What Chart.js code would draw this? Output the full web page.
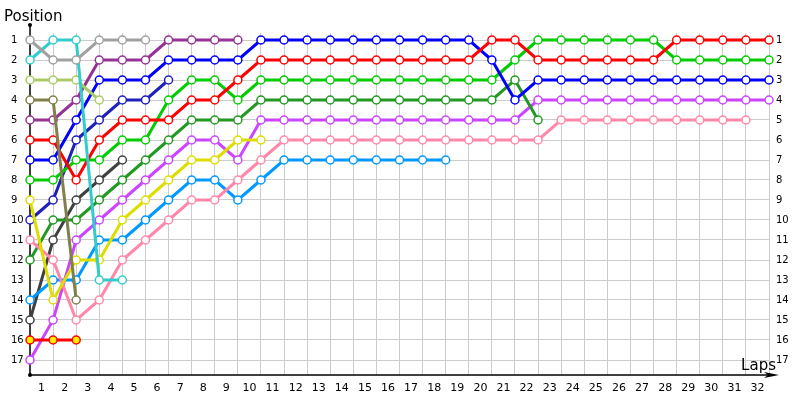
<!DOCTYPE html>
<html>
<head>
<meta charset="utf-8">
<script src="https://cdn.jsdelivr.net/npm/chart.js@4"></script>
<style>
  body { margin: 0; background: #fff; }
  .chart-box { width: 800px; height: 400px; }
</style>
</head>
<body>
<div class="chart-box"><canvas id="lapChart"></canvas></div>
<script>
// lap / position ticks
const lapTicks = [1, 2, 3, 4, 5, 6, 7, 8, 9, 10, 11, 12, 13, 14, 15, 16, 17, 18, 19, 20, 21, 22, 23, 24, 25, 26, 27, 28, 29, 30, 31, 32];
const positionTicks = [1, 2, 3, 4, 5, 6, 7, 8, 9, 10, 11, 12, 13, 14, 15, 16, 17];

// positions per lap, starting at lap 0 (grid)
const grayCar = [1, 2, 2, 1, 1, 1];
const cyanCar = [2, 1, 1, 13, 13];
const limeCar = [3, 3, 3, 4];
const oliveCar = [4, 4, 14];
const purpleCar = [5, 5, 4, 2, 2, 2, 1, 1, 1, 1];
const redCar = [6, 6, 8, 6, 5, 5, 5, 4, 4, 3, 2, 2, 2, 2, 2, 2, 2, 2, 2, 2, 1, 1, 2, 2, 2, 2, 2, 2, 1, 1, 1, 1, 1];
const blueCar = [7, 7, 5, 3, 3, 3, 2, 2, 2, 2, 1, 1, 1, 1, 1, 1, 1, 1, 1, 1, 2, 4, 3, 3, 3, 3, 3, 3, 3, 3, 3, 3, 3];
const greenCar = [8, 8, 7, 7, 6, 6, 4, 3, 3, 4, 3, 3, 3, 3, 3, 3, 3, 3, 3, 3, 3, 2, 1, 1, 1, 1, 1, 1, 2, 2, 2, 2, 2];
const yellowCar = [9, 14, 12, 12, 10, 9, 8, 7, 7, 6, 6];
const navyCar = [10, 9, 6, 5, 4, 4, 3];
const pinkCar = [11, 12, 15, 14, 12, 11, 10, 9, 9, 8, 7, 6, 6, 6, 6, 6, 6, 6, 6, 6, 6, 6, 6, 5, 5, 5, 5, 5, 5, 5, 5, 5];
const forestCar = [12, 10, 10, 9, 8, 7, 6, 5, 5, 5, 4, 4, 4, 4, 4, 4, 4, 4, 4, 4, 4, 3, 5];
const skyCar = [14, 13, 13, 11, 11, 10, 9, 8, 8, 9, 8, 7, 7, 7, 7, 7, 7, 7, 7];
const charcoalCar = [15, 11, 9, 8, 7];
const redYellowCar = [16, 16, 16];
const violetCar = [17, 15, 11, 10, 9, 8, 7, 6, 6, 7, 5, 5, 5, 5, 5, 5, 5, 5, 5, 5, 5, 5, 4, 4, 4, 4, 4, 4, 4, 4, 4, 4, 4];

function toPoints(arr) {
    return arr.map((p, lap) => ({ x: lap, y: p }))
}
function carSet(arr, color, fill) {
    return {
        data: toPoints(arr),
        borderColor: color,
        borderWidth: 3,
        pointRadius: 4,
        pointBorderWidth: 1.5,
        pointBorderColor: color,
        pointBackgroundColor: fill || '#ffffff',
        tension: 0,
        clip: false
    }
}

const tickFont = { family: 'DejaVu Sans', size: 11 };
const posFont = { family: 'DejaVu Sans', size: 10 };

// axes, arrow and titles
const axisPlugin = {
    id: 'axisPlugin',
    beforeDatasetsDraw(chart) {
        const c = chart.ctx;
        const a = chart.chartArea;
        c.save();
        c.strokeStyle = '#000';
        c.lineWidth = 1.5;
        c.beginPath();
        c.moveTo(a.left, 25);
        c.lineTo(a.left, a.bottom);
        c.lineTo(770, a.bottom);
        c.stroke();
        c.fillStyle = '#000';
        c.beginPath();
        c.arc(a.left, 25, 2, 0, Math.PI * 2);
        c.fill();
        c.beginPath();
        c.arc(a.left, a.bottom, 2, 0, Math.PI * 2);
        c.fill();
        c.beginPath();
        c.moveTo(779, a.bottom);
        c.lineTo(764, a.bottom - 3);
        c.lineTo(768, a.bottom);
        c.lineTo(764, a.bottom + 3);
        c.closePath();
        c.fill();
        c.restore();
    },
    afterDraw(chart) {
        const c = chart.ctx;
        c.save();
        c.fillStyle = '#000';
        c.font = '15px "DejaVu Sans"';
        c.textBaseline = 'alphabetic';
        c.textAlign = 'left';
        c.fillText('Position', 4, 21);
        c.textAlign = 'right';
        c.fillText('Laps', 776, 370);
        c.restore();
    }
};

const lapChart = new Chart(document.getElementById('lapChart'), {
    type: 'line',
    data: {
        datasets: [
            carSet(grayCar, '#a0a0a0'),
            carSet(cyanCar, '#33cccc'),
            carSet(limeCar, '#aacc66'),
            carSet(oliveCar, '#80804c'),
            carSet(purpleCar, '#963296'),
            carSet(redCar, '#ff0000'),
            carSet(blueCar, '#0000ff'),
            carSet(greenCar, '#00cc00'),
            carSet(yellowCar, '#dddd00'),
            carSet(navyCar, '#2020bb'),
            carSet(pinkCar, '#ff88aa'),
            carSet(forestCar, '#229922'),
            carSet(skyCar, '#0099ff'),
            carSet(charcoalCar, '#404040'),
            carSet(redYellowCar, '#ff0000', '#ffee00'),
            carSet(violetCar, '#cc44ff')
        ]
    },
    options: {
        responsive: true,
        maintainAspectRatio: false,
        animation: false,
        events: [],
        layout: { padding: { left: 11, right: 0, top: 33, bottom: 0 } },
        plugins: {
            legend: { display: false },
            tooltip: { enabled: false },
            title: { display: false }
        },
        scales: {
            x: {
                type: 'linear',
                min: 0,
                max: 32,
                afterBuildTicks: s => { s.ticks = lapTicks.map(v => ({ value: v })) },
                afterFit: s => { s.height = 25 },
                grid: { color: '#cccccc', drawTicks: false },
                border: { display: false },
                ticks: { labelOffset: -11.5, padding: 7, font: tickFont, color: '#000', maxRotation: 0, autoSkip: false }
            },
            y: {
                type: 'linear',
                position: 'left',
                reverse: true,
                min: 0.65,
                max: 17.75,
                afterBuildTicks: s => { s.ticks = positionTicks.map(v => ({ value: v })) },
                afterFit: s => { s.width = 19 },
                grid: { color: '#cccccc', drawTicks: false },
                border: { display: false },
                ticks: { crossAlign: 'far', padding: 0, font: posFont, color: '#000', autoSkip: false }
            },
            y2: {
                type: 'linear',
                position: 'right',
                reverse: true,
                min: 0.65,
                max: 17.75,
                afterBuildTicks: s => { s.ticks = positionTicks.map(v => ({ value: v })) },
                afterFit: s => { s.width = 31 },
                grid: { display: false, drawTicks: false },
                border: { display: false },
                ticks: { padding: 7, font: posFont, color: '#000', autoSkip: false }
            }
        }
    },
    plugins: [axisPlugin]
})
</script>
</body>
</html>
